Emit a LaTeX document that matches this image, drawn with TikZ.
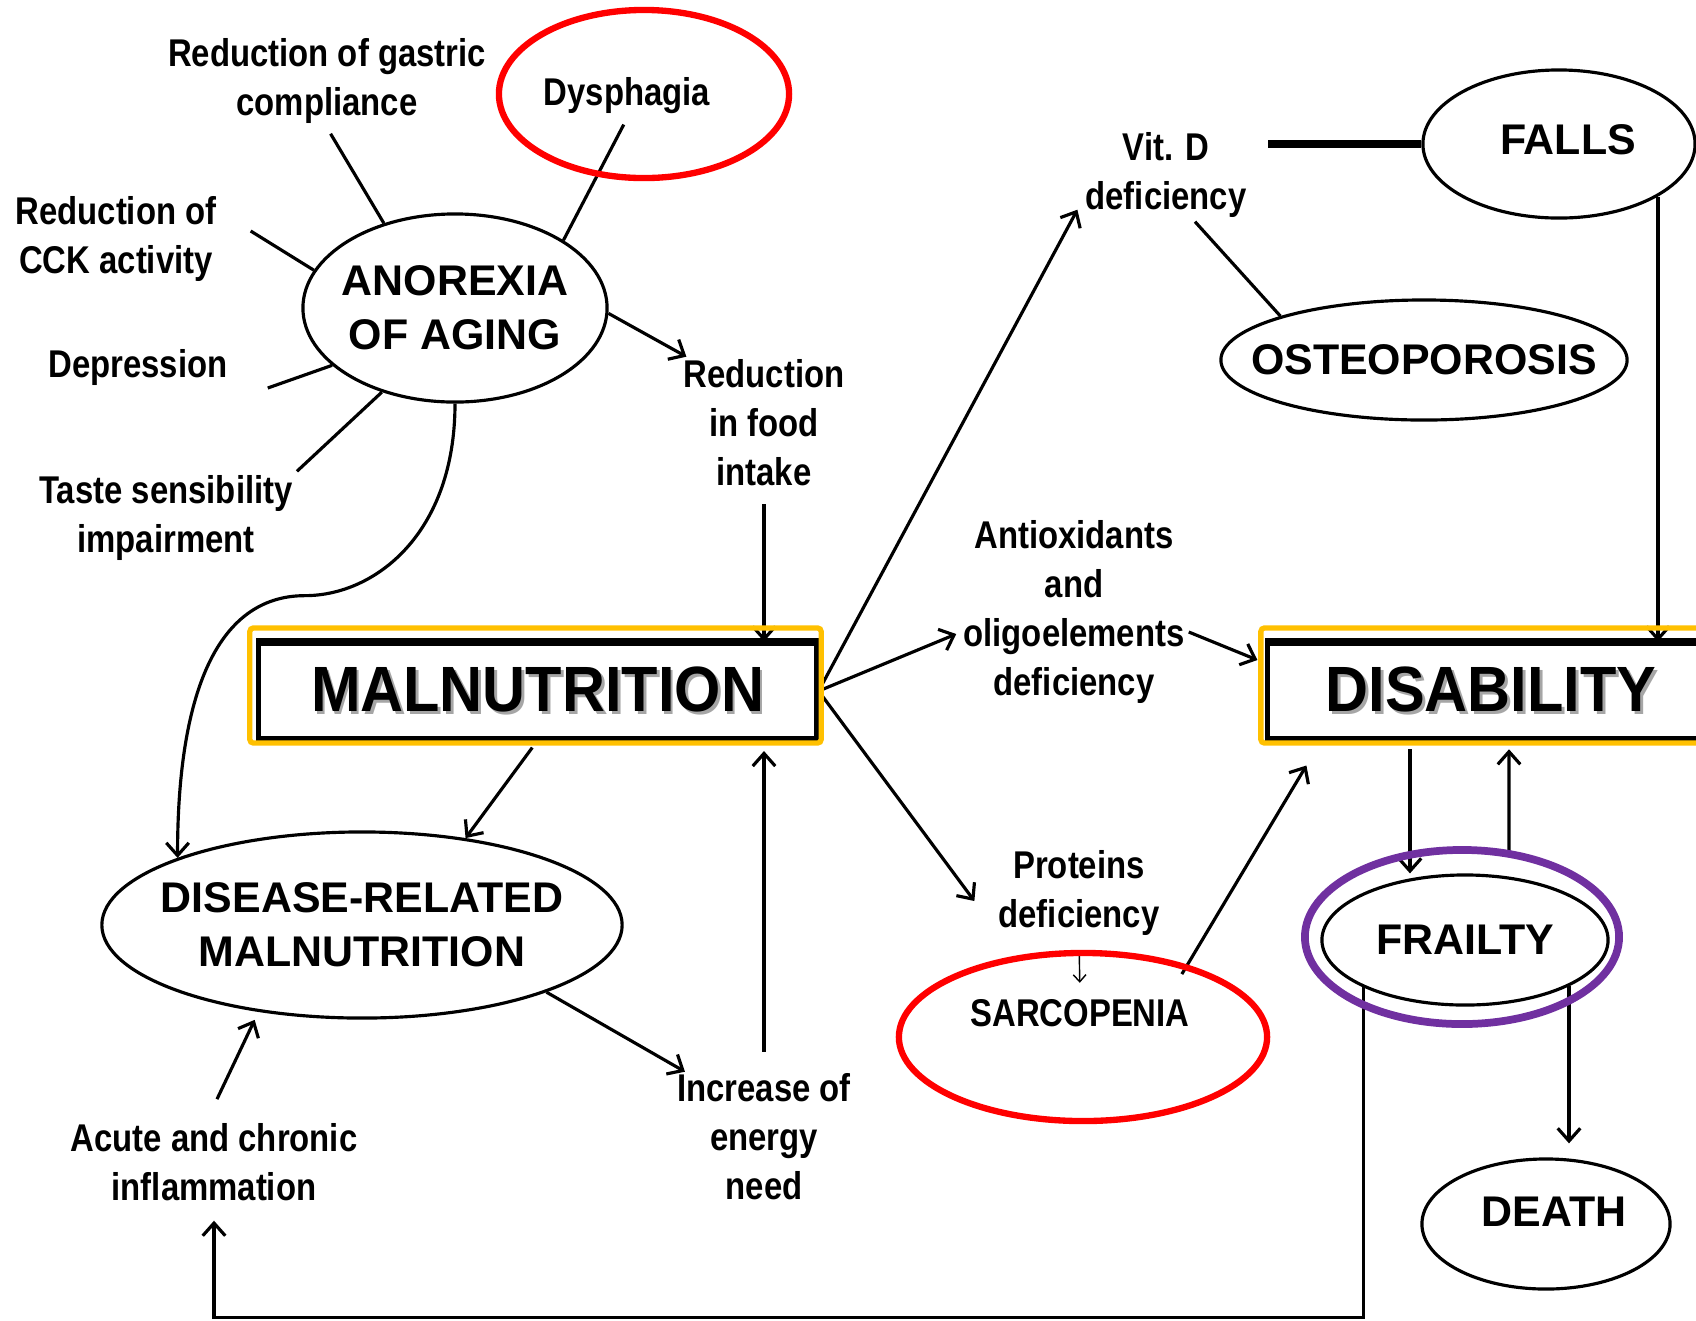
\documentclass[tikz,border=0pt]{standalone}
\usepackage{fontspec}
\setmainfont{Liberation Sans}
\newfontfamily\narrowsans[FakeStretch=0.85]{Liberation Sans}
\newfontfamily\boxsans[FakeStretch=0.93]{Liberation Sans}
\usetikzlibrary{arrows.meta,shapes.geometric,calc}
\definecolor{hiyellow}{RGB}{255,192,0}
\definecolor{hipurple}{RGB}{112,48,160}
\definecolor{hired}{RGB}{255,0,0}
\newcommand{\shadowed}[1]{\makebox[0pt][l]{\hspace{0.8pt}\raisebox{-0.8pt}{\textcolor{black!35}{#1}}}#1}

\begin{document}
\begin{tikzpicture}[
  x=0.01cm, y=-0.01cm,
  lbl/.style={align=center, inner sep=1pt, font=\narrowsans\bfseries\fontsize{11}{13.9}\selectfont},
  oval/.style={ellipse, draw, line width=0.9pt, inner xsep=-30pt, inner ysep=0pt, align=center,
    font=\bfseries\fontsize{12.2}{15.4}\selectfont},
  bigbox/.style={draw, line width=1.4pt, inner sep=0pt, font=\boxsans\bfseries\fontsize{18.2}{20}\selectfont},
  hiring/.style={ellipse, inner sep=0pt},
  hiframe/.style={draw=hiyellow, line width=1.5pt, rounded corners=1pt, inner sep=0pt},
  arrow/.style={-{Straight Barb[length=3.6pt,width=6.4pt]}, line width=0.9pt},
  thinarrow/.style={-{Straight Barb[length=2pt,width=3.6pt]}, line width=0.4pt},
  joinline/.style={line width=0.9pt},
  heavyline/.style={line width=2pt}
]
\useasboundingbox (0,0) rectangle (1696,1320);
\clip (0,0) rectangle (1696,1320);

% left part
\node[lbl] (gastric) at (327,81) {Reduction of gastric\\compliance};
\node[lbl] (dysphagia) at (627,96) {Dysphagia};
\node[lbl] (cck) at (116,239) {Reduction of\\CCK activity};
\node[lbl] (depression) at (138,367) {Depression};
\node[lbl] (taste) at (166,518) {Taste sensibility\\impairment};
\node[oval, minimum width=3.04cm, minimum height=1.88cm] (anorexia) at (455,308) {ANOREXIA\\OF AGING};
\node[lbl] (food) at (764,423) {Reduction\\in food\\intake};
\node[bigbox, minimum width=5.57cm, minimum height=0.94cm] (malnut) at (537.5,691) {\shadowed{MALNUTRITION}};
\node[oval, minimum width=5.2cm, minimum height=1.86cm] (disease) at (362,925) {DISEASE-RELATED\\MALNUTRITION};
\node[lbl] (acute) at (214,1162) {Acute and chronic\\inflammation};
\node[lbl] (increase) at (764,1137) {Increase of\\energy\\need};

% right part
\node[lbl] (antiox) at (1074,612) {Antioxidants\\and\\oligoelements\\deficiency};
\node[lbl] (vitd) at (1166,175) {Vit. D\\deficiency};
\node[oval, minimum width=2.72cm, minimum height=1.48cm, text depth=2.3pt] (falls) at (1559,144) {\hspace*{5.1pt}FALLS};
\node[oval, minimum width=4.06cm, minimum height=1.2cm] (osteo) at (1424,360) {OSTEOPOROSIS};
\node[bigbox, minimum width=4.46cm, minimum height=0.94cm] (disab) at (1491,691) {\shadowed{DISABILITY}};
\node[lbl] (proteins) at (1079,893) {Proteins\\deficiency};
\node[lbl, font=\narrowsans\bfseries\fontsize{11}{13.9}\selectfont] (sarcopenia) at (1080,1013) {SARCOPENIA};
\node[oval, minimum width=2.86cm, minimum height=1.3cm] (frailty) at (1465,940) {FRAILTY};
\node[oval, minimum width=2.48cm, minimum height=1.3cm, text depth=6.8pt] (death) at (1546,1224) {\hspace*{4.6pt}DEATH};

% heavier top edges of the boxes
\draw[line width=2.2pt] (malnut.north west) -- (malnut.north east);
\draw[line width=2.2pt] (disab.north west) -- (disab.north east);

% connectors
\draw[joinline, shorten <=2pt] (gastric.south) -- (anorexia.130);
\draw[joinline, shorten <=2pt] (dysphagia.south) -- (anorexia.32);
\draw[joinline] ([shift={(30,-8)}]cck.east) -- (anorexia.165);
\draw[joinline] ([shift={(36,21)}]depression.east) -- (anorexia.205);
\draw[joinline] (taste.north east) -- (anorexia.229);
\draw[arrow] (anorexia.-2) -- ([shift={(7,1)}]food.north west);
\draw[arrow, shorten <=4pt] (food.south) -- (food.south |- malnut.north);
\draw[arrow] (anorexia.south) .. controls +(0,130) and +(70,0) .. ++(-150,192)
  .. controls +(-90,0) and +(0,-160) .. (disease.160);
\draw[arrow, shorten <=2.5pt] (malnut.south) -- (disease.40);
\draw[arrow] (disease.-20) -- ([shift={(12,2)}]increase.north west);
\draw[arrow, shorten >=3pt] ([yshift=0.18cm]increase.north) -- (increase.north |- malnut.south);
\draw[arrow, shorten >=2.5pt] ([shift={(3,-20)}]acute.north) -- (disease.220);

\draw[arrow] (malnut.east) -- ([shift={(-4,-12)}]vitd.south west);
\draw[arrow] (malnut.east) -- ([shift={(-3,22)}]antiox.west);
\draw[arrow] (malnut.east) -- ([shift={(-20,8)}]proteins.west);
\draw[arrow] ([shift={(0,20)}]antiox.east) -- ([shift={(-8,-31)}]disab.west);
\draw[thinarrow, shorten <=3.4pt, shorten >=3.5pt] (proteins.south) -- (sarcopenia.north);
\draw[arrow] ([shift={(-12,-21)}]sarcopenia.north east) -- ([shift={(41,25)}]disab.south west);

\draw[heavyline, shorten <=5pt] (vitd.east |- falls.west) -- (falls.west);
\draw[joinline] ([xshift=0.29cm]vitd.south) -- (osteo.163);
\draw[arrow] (falls.-28) -- (falls.-28 |- disab.north);

\draw[arrow, shorten <=2.5pt] ([xshift=-0.81cm]disab.south) -- ([xshift=-0.81cm]disab.south |- frailty.north);
\draw[arrow, shorten >=2.5pt] ([shift={(44,-22)}]frailty.north) -- ([xshift=0.44cm]frailty.north |- disab.south);
\draw[arrow, shorten >=4pt] (frailty.-24) -- (frailty.-24 |- death.north);
\draw[arrow, shorten >=4.5pt] (frailty.205) -- ++(0,330) -| (acute.south);

% highlights
\node[hiring, draw=hired, line width=1.8pt, minimum width=2.9cm, minimum height=1.68cm] (dysring) at (644,94) {};
\node[hiring, draw=hired, line width=1.8pt, minimum width=3.68cm, minimum height=1.68cm] (sarcring) at (1083,1037) {};
\node[hiring, draw=hipurple, line width=2.2pt, minimum width=3.14cm, minimum height=1.74cm] (frailring) at (1462,937) {};
\node[hiframe, minimum width=5.71cm, minimum height=1.15cm] (malnutframe) at (535.5,685.5) {};
\node[hiframe, minimum width=4.60cm, minimum height=1.15cm] (disabframe) at (1491,685.5) {};

\end{tikzpicture}
\end{document}
